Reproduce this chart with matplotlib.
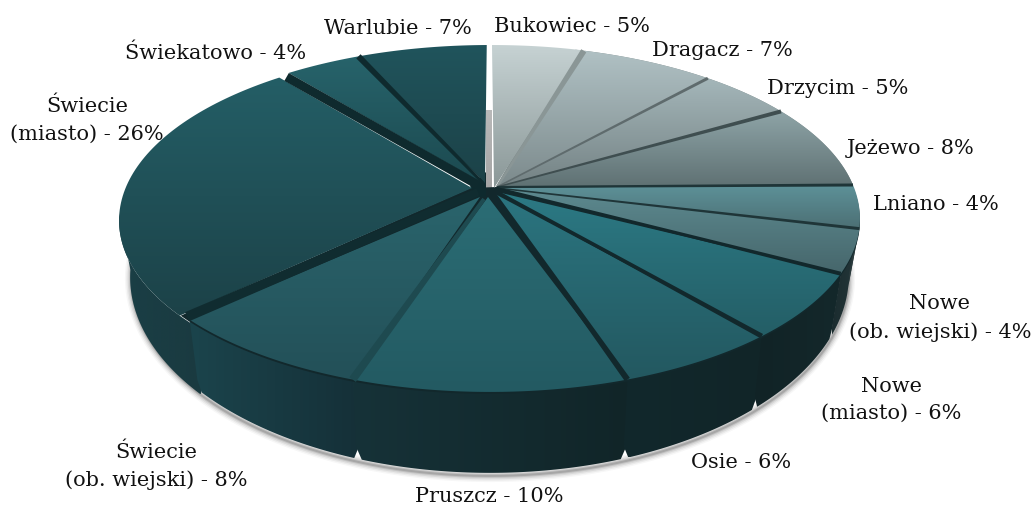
import numpy as np
import matplotlib
matplotlib.use("Agg")
import matplotlib.pyplot as plt
from matplotlib.patches import Polygon
from matplotlib.colors import to_rgb

# ---- data ----
names = ["Bukowiec", "Dragacz", "Drzycim", "Jeżewo", "Lniano", "Nowe\n(ob. wiejski)",
         "Nowe\n(miasto)", "Osie", "Pruszcz", "Świecie\n(ob. wiejski)",
         "Świecie\n(miasto)", "Świekatowo", "Warlubie"]
shares = [5, 7, 5, 8, 4, 4, 6, 6, 10, 8, 26, 4, 7]

# ---- style ----
top_hi = ["#c6d2d3", "#b0c1c4", "#a4b6b9", "#8ea4a7", "#5d9198", "#5d8a90", "#2c7a85",
          "#2b7580", "#2b6d75", "#2a646c", "#245e66", "#27636b", "#20545c"]
top_lo = ["#8a9797", "#7c8a8c", "#748284", "#5f7173", "#4c6f74", "#46666b", "#245e66",
          "#235860", "#235a62", "#235058", "#1c4248", "#1c4a50", "#1c4248"]
side_l = ["#222222", "#222222", "#222222", "#222222", "#2a3a3c", "#1b2c2f", "#112326",
          "#12282c", "#163238", "#1b444c", "#1a3f46", "#1a3f46", "#1a3f46"]
side_r = ["#222222", "#222222", "#222222", "#222222", "#2a3a3c", "#25373a", "#14282b",
          "#112528", "#112528", "#153038", "#1a3a40", "#1a3f46", "#1a3f46"]
apex = [(4, 3), (7, 2), (7, 2), (7, 2), (7, 3), (7, 3), (7, 7), (5, 9), (-2, 12),
        (-10, 12), (-18, 3), (-8, -2), (-5, -2)]
rim = [(2, 0), (0, 0), (0, 0), (0, 0), (0, 0), (0, 0), (0, 0), (0, 0), (0, 0),
       (0, 0), (-1, 2), (0, 0), (0, 0)]
inset = [(0, 0.2), (0, 0), (0, 0), (0, 0), (0, 0), (0, 0), (0, 0), (0, 0), (0, 0),
         (0, 0.3), (0.3, 0.5), (0, 0), (0, 0.17)]
sep_rim = [6, 3, 4, 3, 3, 4, 5, 6, 8, 10, 9, 6]
sep_apex = [2, 1.5, 1.5, 2, 1.5, 2, 2.5, 3, 4, 8, 9, 3]
sep_col = ["#8a9696", "#5f6b6d", "#3f4e50", "#1f3538", "#1f3538", "#12282c", "#12282c",
           "#12282c", "#1e4a50", "#102c30", "#0f2a2e", "#0f2a2e"]
cut_apex = [(7, 2), (7, 2), (7, 2), (7, 2), (7, 3), (7, 3), (6, 6), (4, 8), (-6, 14),
            (-12, 7), (-12, 0), (-7, -2)]
cut_rim = [(-1, 0), (0, 0), (0, 0), (0, 0), (0, 0), (0, 0), (0, 0), (0, 0), (0, 0),
           (2, 0), (-2, 4), (0, 0)]
label_xy = [(572, 27), (722, 50), (838, 88), (911, 148), (936, 204), (940, 318), (891, 400),
            (741, 462), (489, 497), (156, 466), (87, 120), (216, 53), (398, 28)]
back_strip = np.array([[486, 110], [492, 110], [492, 197], [486, 197]], dtype=float)
hub_dark = np.array([[486, 172], [486, 197], [476, 197], [470, 186]], dtype=float)

CX, CY, A, B, K, DEPTH, SHRINK = 490, 185, 363, 167, 0.193, 52.7, 0.97
WALL_FROM, WALL_TO = 28.0, 72.5


def project(pct, extra=(0, 0), drop=0.0):
    """Percent round the pie -> picture position; drop 0..1 goes down the outer wall."""
    t = np.asarray(pct) * 2 * np.pi / 100
    u, v = np.sin(t), np.cos(t)
    w = 1 + K * v
    sx = 1 - (1 - SHRINK) * drop
    return np.column_stack([CX + sx * A * u / w + extra[0],
                            CY - B * v / w + extra[1] + drop * DEPTH / w ** 2])


def grad_fill(ax, poly, c0, c1, horizontal=False, zorder=2):
    patch = Polygon(poly, closed=True, fc="none", ec="none", transform=ax.transData)
    ax.add_patch(patch)
    x0, y0 = poly.min(axis=0)
    x1, y1 = poly.max(axis=0)
    f = np.linspace(0, 1, 128)[:, None]
    img = (1 - f) * np.array(to_rgb(c0)) + f * np.array(to_rgb(c1))
    img = img[None, :, :] if horizontal else img[:, None, :]
    im = ax.imshow(img, extent=(x0, x1, y1, y0), origin="upper", aspect="auto",
                   zorder=zorder, interpolation="bilinear")
    im.set_clip_path(patch)
    return im


fig = plt.figure(figsize=(10.35, 5.07), dpi=100)
ax = fig.add_axes([0, 0, 1, 1])
ax.set_axis_off()

edges = np.concatenate([[0], np.cumsum(shares)]).astype(float)

# soft shadow below the front wall
sh = project(np.linspace(26, 74, 200), (0, 3), drop=1)
for lw, al in [(9, 0.03), (7, 0.05), (5, 0.07), (3, 0.10), (1.5, 0.14)]:
    ax.plot(sh[:, 0], sh[:, 1], color="k", alpha=al, lw=lw, zorder=1,
            solid_capstyle="round")

# outer walls, later slices first so that each one laps over the next
for i in range(len(shares) - 1, -1, -1):
    raw_lo = edges[i] + inset[i][0] - (1.0 if i == 10 else 0.1)
    raw_hi = edges[i + 1] - inset[i][1]
    lo, hi = max(raw_lo, WALL_FROM), min(raw_hi, WALL_TO)
    if hi <= lo:
        continue
    notch_lo = raw_lo >= WALL_FROM
    notch_hi = raw_hi <= WALL_TO
    ts = np.linspace(lo, hi, 60)
    tb = np.linspace(hi - (0.2 if notch_hi else 0), lo + (0.2 if notch_lo else 0), 60)
    parts = [project(ts, rim[i])]
    if notch_hi:
        parts.append(project([hi], rim[i], drop=0.85))
    parts.append(project(tb, rim[i], drop=1))
    if notch_lo:
        parts.append(project([lo], rim[i], drop=0.85))
    grad_fill(ax, np.vstack(parts), side_l[i], side_r[i], horizontal=True, zorder=2)

# pale back wall seen in the gap at 12 o'clock
grad_fill(ax, back_strip, "#b9b9b9", "#a2a2a2", zorder=2)

# underlays so that no white shows through the cuts
pale = np.vstack([[[CX + 5, CY + 3]], project(np.linspace(edges[1] - 0.5, edges[4], 80))])
ax.add_patch(Polygon(pale, closed=True, fc="#7f8b8b", ec="none", zorder=2.5))
under = np.vstack([[[CX + 7, CY + 2]], project(np.linspace(edges[4], edges[10] + 0.3, 200), (0, 2)),
                   [[CX - 20, CY + 3]]])
ax.add_patch(Polygon(under, closed=True, fc="#12282c", ec="none", zorder=2.5))
ax.add_patch(Polygon(hub_dark, closed=True, fc="#0e2a2e", ec="none", zorder=2.6))

# top faces
for i, s in enumerate(shares):
    ts = np.linspace(edges[i] + inset[i][0], edges[i + 1] - inset[i][1], 80)
    arc = project(ts, rim[i])
    ap = np.array([[CX + apex[i][0], CY + apex[i][1]]])
    grad_fill(ax, np.vstack([ap, arc]), top_hi[i], top_lo[i], zorder=3)

# dark cuts between neighbouring slices
for j, b in enumerate(edges[1:-1]):
    p_out = project([b], cut_rim[j])[0]
    p_in = np.array([CX + cut_apex[j][0], CY + cut_apex[j][1]])
    d = p_out - p_in
    n = np.array([-d[1], d[0]]) / np.hypot(*d)
    cut = np.array([p_in + n * sep_apex[j] / 2, p_out + n * sep_rim[j] / 2,
                    p_out - n * sep_rim[j] / 2, p_in - n * sep_apex[j] / 2])
    ax.add_patch(Polygon(cut, closed=True, fc=sep_col[j], ec="none", zorder=4))

# labels
for nm, sh_, (x, y) in zip(names, shares, label_xy):
    ax.text(x, y, f"{nm} - {sh_}%", ha="center", va="center", fontsize=15.0,
            family="DejaVu Serif", color="#111111", zorder=6, linespacing=1.55)

ax.set_xlim(0, 1035)
ax.set_ylim(507, 0)
fig.savefig("out.png", dpi=100, facecolor="white")
